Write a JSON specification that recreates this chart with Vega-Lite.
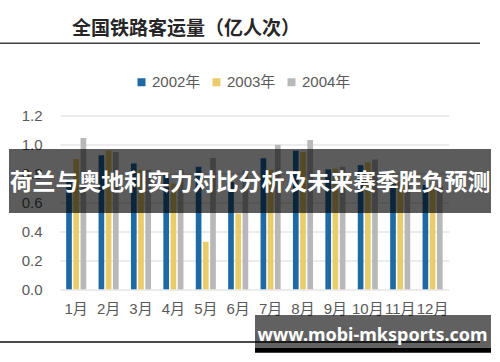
{
  "$schema": "https://vega.github.io/schema/vega-lite/v6.json",
  "width": 388.8,
  "height": 173.8,
  "autosize": {"type": "none"},
  "padding": {"left": 60, "top": 115.5, "right": 51.2, "bottom": 72.7},
  "background": "white",
  "title": {
    "text": "全国铁路客运量（亿人次）",
    "anchor": "start",
    "frame": "group",
    "dx": 12,
    "font": "Noto Sans CJK SC",
    "fontSize": 19,
    "fontWeight": "bold",
    "color": "#262626"
  },
  "config": {
    "view": {"stroke": null},
    "axis": {"labelFont": "Liberation Sans, Noto Sans CJK SC"}
  },
  "layer": [
    {
      "data": {
        "values": [
          {"month": "1月", "year": "2002年", "value": 0.76},
          {"month": "1月", "year": "2003年", "value": 0.90},
          {"month": "1月", "year": "2004年", "value": 1.045},
          {"month": "2月", "year": "2002年", "value": 0.926},
          {"month": "2月", "year": "2003年", "value": 0.956},
          {"month": "2月", "year": "2004年", "value": 0.948},
          {"month": "3月", "year": "2002年", "value": 0.869},
          {"month": "3月", "year": "2003年", "value": 0.825},
          {"month": "3月", "year": "2004年", "value": 0.825},
          {"month": "4月", "year": "2002年", "value": 0.795},
          {"month": "4月", "year": "2003年", "value": 0.73},
          {"month": "4月", "year": "2004年", "value": 0.828},
          {"month": "5月", "year": "2002年", "value": 0.846},
          {"month": "5月", "year": "2003年", "value": 0.328},
          {"month": "5月", "year": "2004年", "value": 0.906},
          {"month": "6月", "year": "2002年", "value": 0.74},
          {"month": "6月", "year": "2003年", "value": 0.524},
          {"month": "6月", "year": "2004年", "value": 0.82},
          {"month": "7月", "year": "2002年", "value": 0.905},
          {"month": "7月", "year": "2003年", "value": 0.825},
          {"month": "7月", "year": "2004年", "value": 0.998},
          {"month": "8月", "year": "2002年", "value": 0.956},
          {"month": "8月", "year": "2003年", "value": 0.948},
          {"month": "8月", "year": "2004年", "value": 1.03},
          {"month": "9月", "year": "2002年", "value": 0.828},
          {"month": "9月", "year": "2003年", "value": 0.834},
          {"month": "9月", "year": "2004年", "value": 0.846},
          {"month": "10月", "year": "2002年", "value": 0.857},
          {"month": "10月", "year": "2003年", "value": 0.877},
          {"month": "10月", "year": "2004年", "value": 0.897},
          {"month": "11月", "year": "2002年", "value": 0.73},
          {"month": "11月", "year": "2003年", "value": 0.75},
          {"month": "11月", "year": "2004年", "value": 0.74},
          {"month": "12月", "year": "2002年", "value": 0.72},
          {"month": "12月", "year": "2003年", "value": 0.70},
          {"month": "12月", "year": "2004年", "value": 0.72}
        ]
      },
      "mark": {"type": "bar"},
      "encoding": {
        "x": {
          "field": "month",
          "type": "nominal",
          "sort": ["1月", "2月", "3月", "4月", "5月", "6月", "7月", "8月", "9月", "10月", "11月", "12月"],
          "scale": {"paddingInner": 0.38, "paddingOuter": 0.19},
          "axis": {
            "title": null,
            "labelAngle": 0,
            "domain": false,
            "ticks": false,
            "tickSize": 0,
            "labelPadding": 12,
            "labelFontSize": 15,
            "labelColor": "#595959"
          }
        },
        "xOffset": {
          "field": "year",
          "type": "nominal",
          "sort": ["2002年", "2003年", "2004年"],
          "scale": {"paddingInner": 0.21}
        },
        "y": {
          "field": "value",
          "type": "quantitative",
          "scale": {"domain": [0, 1.2], "nice": false},
          "axis": {
            "title": null,
            "values": [0, 0.2, 0.4, 0.6, 0.8, 1.0, 1.2],
            "format": ".1f",
            "domain": false,
            "ticks": false,
            "tickSize": 0,
            "labelPadding": 18,
            "labelFontSize": 15,
            "labelColor": "#595959",
            "gridColor": "#d9d9d9",
            "gridWidth": 1.2
          }
        },
        "color": {
          "field": "year",
          "type": "nominal",
          "scale": {"domain": ["2002年", "2003年", "2004年"], "range": ["#1f6aa5", "#e8cd6a", "#b8b8b8"]},
          "legend": {
            "title": null,
            "orient": "none",
            "legendX": 74,
            "legendY": -41,
            "direction": "horizontal",
            "symbolType": "square",
            "symbolSize": 64,
            "symbolStrokeWidth": 0,
            "labelFont": "Liberation Sans, Noto Sans CJK SC",
            "labelFontSize": 15,
            "labelColor": "#595959",
            "labelOffset": 3,
            "columnPadding": 8
          }
        }
      }
    },
    {
      "data": {"values": [{"line": "title rule"}]},
      "mark": {"type": "rule", "color": "#404040", "strokeWidth": 1.5},
      "encoding": {
        "x": {"datum": -0.1543, "type": "quantitative", "scale": {"domain": [0, 1], "nice": false, "zero": false}, "axis": null},
        "x2": {"datum": 1.0802},
        "y": {"datum": 1.6986, "type": "quantitative", "scale": {"domain": [0, 1.2], "nice": false, "zero": false}, "axis": null}
      }
    },
    {
      "data": {"values": [{"line": "bottom rule"}]},
      "mark": {"type": "rule", "color": "#4a4a4a", "strokeWidth": 1.8},
      "encoding": {
        "x": {"datum": -0.1543, "type": "quantitative", "scale": {"domain": [0, 1], "nice": false, "zero": false}, "axis": null},
        "x2": {"datum": 1.0802},
        "y": {"datum": -0.3639, "type": "quantitative", "scale": {"domain": [0, 1.2], "nice": false, "zero": false}, "axis": null}
      }
    },
    {
      "data": {"values": [{"t": "荷兰与奥地利实力对比分析及未来赛季胜负预测"}]},
      "layer": [
        {
          "mark": {"type": "rect", "color": "black", "opacity": 0.64},
          "encoding": {
            "x": {"datum": -0.1312, "type": "quantitative", "scale": {"domain": [0, 1], "nice": false, "zero": false}, "axis": null},
            "x2": {"datum": 1.1085},
            "y": {"datum": 0.9687, "type": "quantitative", "scale": {"domain": [0, 1.2], "nice": false, "zero": false}, "axis": null},
            "y2": {"datum": 0.5268}
          }
        },
        {
          "mark": {"type": "text", "color": "white", "font": "Noto Sans CJK SC", "fontWeight": "bold", "fontSize": 22.9, "align": "center", "baseline": "middle"},
          "encoding": {
            "x": {"datum": 0.4887, "type": "quantitative", "scale": {"domain": [0, 1], "nice": false, "zero": false}, "axis": null},
            "y": {"datum": 0.7354, "type": "quantitative", "scale": {"domain": [0, 1.2], "nice": false, "zero": false}, "axis": null},
            "text": {"field": "t"}
          }
        }
      ]
    },
    {
      "data": {"values": [{"t": "www.mobi-mksports.com"}]},
      "layer": [
        {
          "mark": {"type": "rect", "color": "black", "opacity": 0.62},
          "encoding": {
            "x": {"datum": 0.5015, "type": "quantitative", "scale": {"domain": [0, 1], "nice": false, "zero": false}, "axis": null},
            "x2": {"datum": 1.1085},
            "y": {"datum": -0.1775, "type": "quantitative", "scale": {"domain": [0, 1.2], "nice": false, "zero": false}, "axis": null},
            "y2": {"datum": -0.4032}
          }
        },
        {
          "mark": {"type": "rect", "color": "black", "opacity": 1},
          "encoding": {
            "x": {"datum": 0.5015, "type": "quantitative", "scale": {"domain": [0, 1], "nice": false, "zero": false}, "axis": null},
            "x2": {"datum": 1.1085},
            "y": {"datum": -0.4032, "type": "quantitative", "scale": {"domain": [0, 1.2], "nice": false, "zero": false}, "axis": null},
            "y2": {"datum": -0.4378}
          }
        },
        {
          "mark": {"type": "text", "color": "white", "font": "Noto Sans", "fontWeight": "bold", "fontSize": 18, "align": "center", "baseline": "middle"},
          "encoding": {
            "x": {"datum": 0.8038, "type": "quantitative", "scale": {"domain": [0, 1], "nice": false, "zero": false}, "axis": null},
            "y": {"datum": -0.3225, "type": "quantitative", "scale": {"domain": [0, 1.2], "nice": false, "zero": false}, "axis": null},
            "text": {"field": "t"}
          }
        }
      ]
    }
  ],
  "resolve": {"scale": {"x": "independent", "y": "independent"}}
}
